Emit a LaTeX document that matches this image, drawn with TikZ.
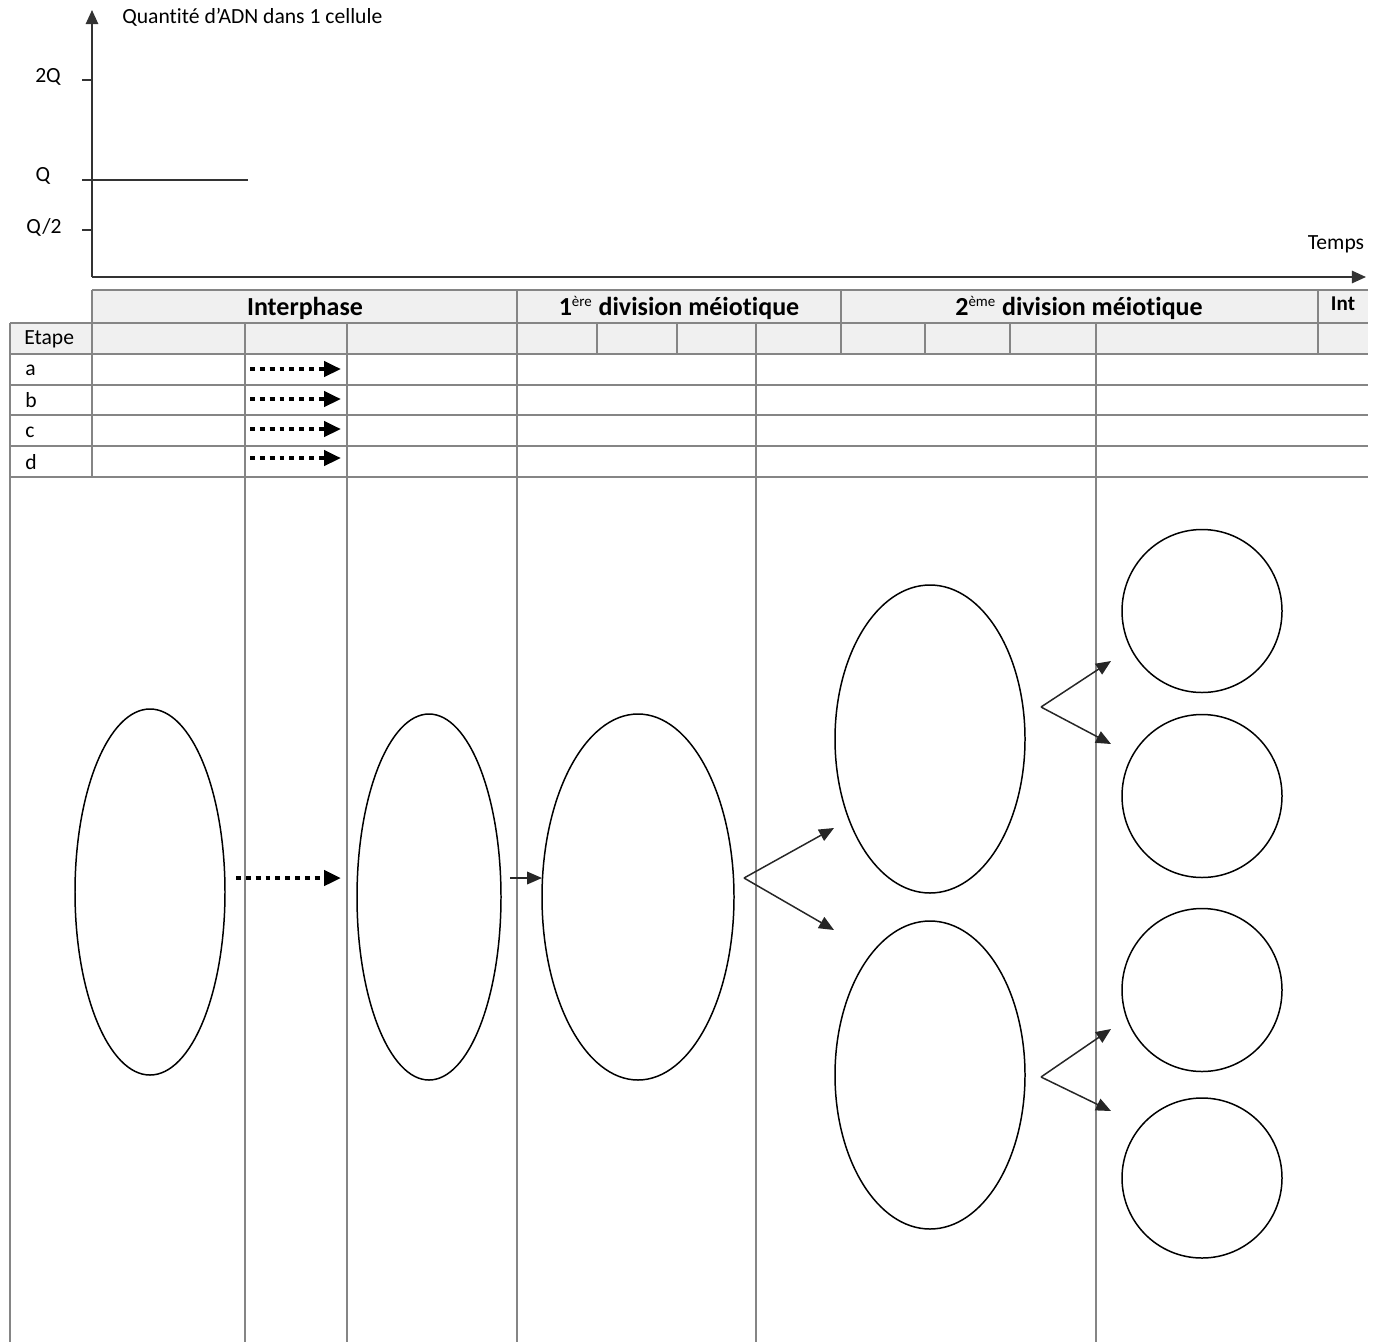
\documentclass[tikz,border=0pt]{standalone}
\usepackage{fontspec}
\setmainfont{Carlito}[Ligatures={NoCommon}]
\usetikzlibrary{arrows.meta,shapes.geometric}
\newcommand\pxu{0.02cm}
\newcommand\smallsup[1]{\textsuperscript{\fontsize{8.5}{9}\selectfont\mdseries #1}}
\tikzset{
  grid/.style={draw=black!48, line width=1.1pt},
  axis/.style={draw=black!80, line width=1.1pt},
  cell/.style={draw=black, line width=0.85pt, ellipse, inner sep=0pt},
  dotarrow/.style={line width=2.5pt, dash pattern=on 2.8pt off 2.8pt, -{Triangle[length=9.6pt,width=8.5pt]}},
  thinarrow/.style={line width=0.85pt, draw=black!85, -{Triangle[length=8.5pt,width=7.2pt]}},
  normtxt/.style={font=\fontsize{12.3}{14}\selectfont, inner sep=0pt},
  headtxt/.style={font=\fontsize{14.8}{17}\selectfont\bfseries, inner sep=0pt},
}
\begin{document}
\begin{tikzpicture}[x=\pxu,y=-\pxu]
\useasboundingbox (0,0) rectangle (1378,1342);
% ---------- graph ----------
\coordinate (O) at (92,277);
\coordinate (Ytop) at (92,10);
\coordinate (Xend) at (1366,277);
\draw[axis,-{Triangle[length=8pt,width=7pt]}] (O) -- (Ytop);
\draw[axis,-{Triangle[length=8pt,width=7pt]}] (O) -- (Xend);
\coordinate (t2a) at (82,80);  \coordinate (t2b) at (92,80);
\coordinate (t1a) at (82,180); \coordinate (t1b) at (248,180);
\coordinate (t3a) at (82,230); \coordinate (t3b) at (92,230);
\draw[axis] (t2a) -- (t2b);
\draw[axis] (t1a) -- (t1b);
\draw[axis] (t3a) -- (t3b);
\node[normtxt, anchor=west] (ylab) at (122,17) {Quantité d’ADN dans 1 cellule};
\node[normtxt] (l2q) at (48,77) {2Q};
\node[normtxt] (l1q) at (43,176) {Q};
\node[normtxt] (lhq) at (44,227) {Q/2};
\node[normtxt] (xlab) at (1336,244) {Temps};
% ---------- table ----------
\fill[black!6] (92,290) rectangle (1368,323);
\fill[black!6] (10,323) rectangle (1368,354);
\draw[grid] (92,290) -- (1368,290);
\foreach \yy in {323,354,385,415,446,477} {\draw[grid] (10,\yy) -- (1368,\yy);}
\draw[grid] (10,323) -- (10,1342);
\draw[grid] (92,290) -- (92,477);
\foreach \xx in {245,347,756,1096} {\draw[grid] (\xx,323) -- (\xx,1342);}
\draw[grid] (517,290) -- (517,1342);
\foreach \xx in {597,677,925,1010} {\draw[grid] (\xx,323) -- (\xx,354);}
\draw[grid] (841,290) -- (841,354);
\draw[grid] (1318,290) -- (1318,354);
\node[headtxt] (h1) at (305,308) {Interphase};
\node[headtxt] (h2) at (679,308) {1\smallsup{ère} division méiotique};
\node[headtxt] (h3) at (1079,308) {2\smallsup{ème} division méiotique};
\node[normtxt, font=\fontsize{12}{14}\selectfont\bfseries] (h4) at (1343,304) {Int};
\node[normtxt, anchor=west] (etape) at (24,339) {Etape};
\node[normtxt, anchor=west] (ra) at (25,370) {a};
\node[normtxt, anchor=west] (rb) at (25,400) {b};
\node[normtxt, anchor=west] (rc) at (25,432) {c};
\node[normtxt, anchor=west] (rd) at (25,462) {d};
\foreach \yy/\nm in {369/a,399/b,429/c,458/d} {
  \coordinate (s\nm) at (250,\yy);
  \coordinate (e\nm) at (341,\yy);
  \draw[dotarrow] (s\nm) -- (e\nm);
}
% ---------- cells ----------
\node[cell, minimum width=150*\pxu, minimum height=366*\pxu] (c1) at (150,892) {};
\node[cell, minimum width=144*\pxu, minimum height=366*\pxu] (c2) at (429,897) {};
\node[cell, minimum width=192*\pxu, minimum height=366*\pxu] (c3) at (638,897) {};
\node[cell, minimum width=190*\pxu, minimum height=308*\pxu] (c4) at (930,739) {};
\node[cell, minimum width=190*\pxu, minimum height=308*\pxu] (c5) at (930,1075) {};
\node[cell, minimum width=160*\pxu, minimum height=163*\pxu] (g1) at (1202,611) {};
\node[cell, minimum width=160*\pxu, minimum height=163*\pxu] (g2) at (1202,796) {};
\node[cell, minimum width=160*\pxu, minimum height=163*\pxu] (g3) at (1202,990) {};
\node[cell, minimum width=160*\pxu, minimum height=160*\pxu] (g4) at (1202,1178) {};
% ---------- arrows ----------
\coordinate (d1s) at (236,878); \coordinate (d1e) at (341,878);
\draw[dotarrow] (d1s) -- (d1e);
\coordinate (a1s) at (510,878); \coordinate (a1e) at (542,878);
\draw[thinarrow] (a1s) -- (a1e);
\coordinate (f1) at (744,878);
\coordinate (f1u) at (834,828); \coordinate (f1d) at (834,930);
\draw[thinarrow] (f1) -- (f1u);
\draw[thinarrow] (f1) -- (f1d);
\coordinate (f2) at (1041,707);
\coordinate (f2u) at (1111,661); \coordinate (f2d) at (1111,744);
\draw[thinarrow] (f2) -- (f2u);
\draw[thinarrow] (f2) -- (f2d);
\coordinate (f3) at (1041,1077);
\coordinate (f3u) at (1111,1029); \coordinate (f3d) at (1111,1111);
\draw[thinarrow] (f3) -- (f3u);
\draw[thinarrow] (f3) -- (f3d);
\end{tikzpicture}
\end{document}
